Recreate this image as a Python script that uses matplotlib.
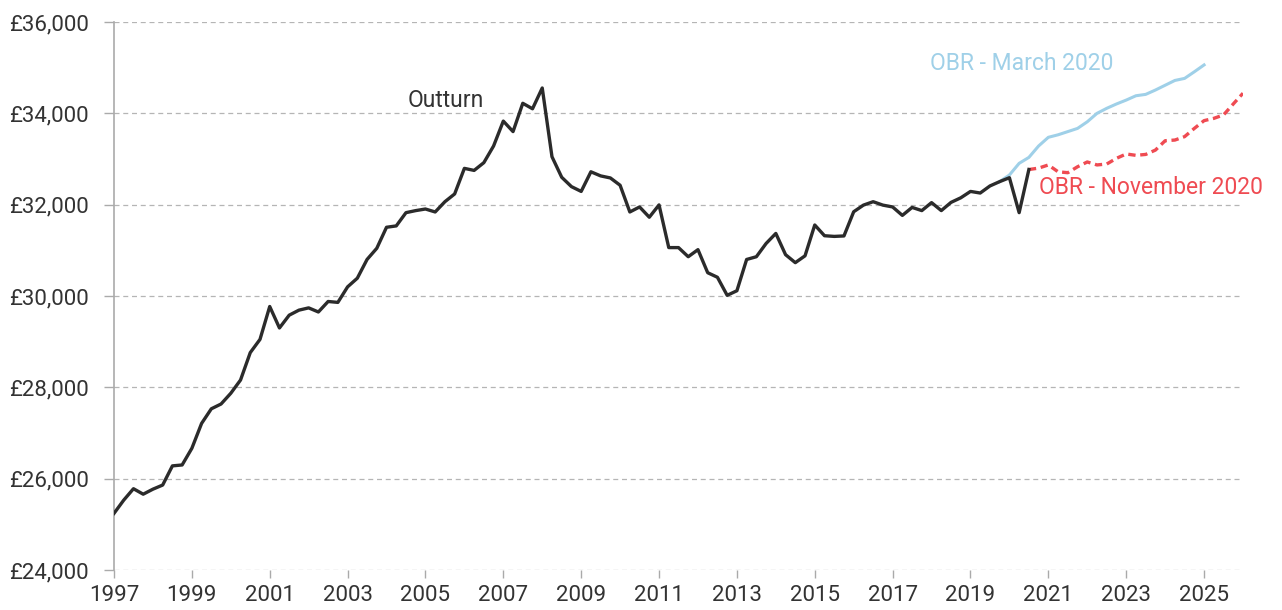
import matplotlib
matplotlib.use("Agg")
import matplotlib.pyplot as plt
from matplotlib.ticker import FuncFormatter
import numpy as np

# Quarterly data, starting 1997 Q1
outturn_start = 1997.0
outturn = [25240, 25530, 25780, 25660, 25770, 25860, 26280, 26300, 26665, 27210,
           27530, 27635, 27870, 28160, 28760, 29050, 29770, 29300, 29580, 29690,
           29740, 29650, 29880, 29860, 30200, 30390, 30800, 31045, 31505, 31535,
           31825, 31870, 31905, 31840, 32065, 32235, 32795, 32750, 32920, 33285,
           33830, 33600, 34220, 34100, 34555, 33050, 32600, 32395, 32290, 32720,
           32630, 32585, 32425, 31840, 31950, 31725, 31995, 31060, 31060, 30860,
           31015, 30510, 30410, 30015, 30115, 30800, 30860, 31150, 31370, 30905,
           30730, 30880, 31555, 31320, 31305, 31315, 31845, 31990, 32065, 31990,
           31950, 31765, 31940, 31870, 32045, 31870, 32050, 32150, 32290, 32255,
           32410, 32505, 32590, 31825, 32770]

march_start = 2019.75
obr_march = [32505, 32650, 32905, 33035, 33285, 33475, 33530, 33600, 33670, 33815,
             34000, 34110, 34205, 34290, 34385, 34415, 34510, 34615, 34720, 34765,
             34910, 35060]

nov_start = 2020.5
obr_nov = [32770, 32800, 32870, 32720, 32700, 32830, 32935, 32870, 32890, 33015,
           33110, 33080, 33100, 33195, 33400, 33415, 33490, 33670, 33840, 33890,
           33965, 34205, 34440]

year_ticks = list(range(1997, 2026, 2))
y_ticks = [24000, 26000, 28000, 30000, 32000, 34000, 36000]

plt.rcParams['font.family'] = ['Roboto', 'DejaVu Sans']

fig = plt.figure(figsize=(12.82, 6.10), dpi=100)
ax = fig.add_axes([114/1282, 1 - 570/610, (1243 - 114)/1282, (570 - 22)/610])

def qx(start, vals):
    return start + np.arange(len(vals)) * 0.25

ax.plot(qx(march_start, obr_march), obr_march, color='#9fd0e8', lw=2.2, zorder=3)
ax.plot(qx(nov_start, obr_nov), obr_nov, color='#ef4b52', lw=2.4, ls=(0, (2.2, 1.4)), zorder=3)
ax.plot(qx(outturn_start, outturn), outturn, color='#2b2b2b', lw=2.4, zorder=4)

ax.set_xlim(1997, 2026)
ax.set_ylim(24000, 36000)
ax.set_yticks(y_ticks)
ax.set_xticks(year_ticks)
ax.yaxis.set_major_formatter(FuncFormatter(lambda v, p: '£{:,.0f}'.format(v)))

ax.grid(axis='y', color='#b5b5b5', ls=(0, (4, 3)), lw=0.9)
ax.set_axisbelow(True)
for s in ['top', 'right', 'bottom']:
    ax.spines[s].set_visible(False)
ax.spines['left'].set_color('#aaaaaa')
ax.spines['left'].set_linewidth(1.2)

ax.tick_params(axis='y', length=7, width=1, color='#aaaaaa', labelsize=16,
               labelcolor='#333333', pad=11)
ax.tick_params(axis='x', length=6, width=1, color='#aaaaaa', labelsize=16,
               labelcolor='#333333', pad=5)

ax.text(2005.52, 34290, 'Outturn', color='#333333', fontsize=16.5, va='center', ha='center')
ax.text(2017.97, 35100, 'OBR - March 2020', color='#9fd0e8', fontsize=16.5, va='center', ha='left')
ax.text(2020.77, 32365, 'OBR - November 2020', color='#ef4b52', fontsize=16.5, va='center', ha='left')

fig.savefig('out.png', dpi=100)
